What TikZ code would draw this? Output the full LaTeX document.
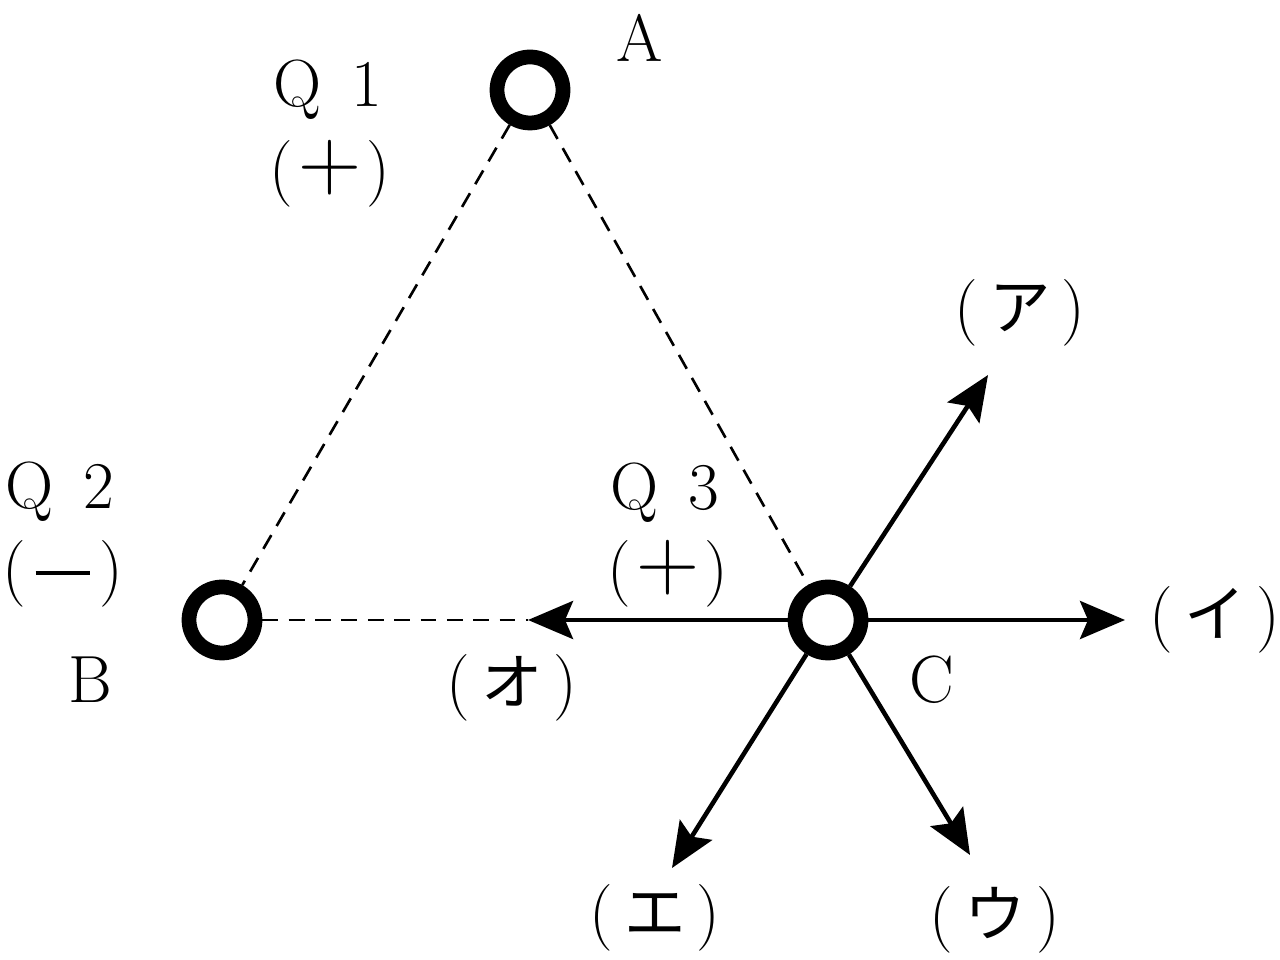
\documentclass[tikz,border=0pt]{standalone}
\usepackage{fontspec}
\newfontfamily\cjk{Noto Sans CJK JP}[Scale=0.92]
\usetikzlibrary{arrows.meta}
\newcommand{\bigsign}[1]{\hspace{0.08em}\smash{\raisebox{0.02em}{\fontsize{25}{25}\selectfont$#1$}}\hspace{0.08em}}
\newcommand{\barsign}{\hspace{0.14em}\rule[0.24em]{0.82em}{0.055em}\hspace{0.14em}}
\begin{document}
\begin{tikzpicture}[
  lbl/.style={font=\fontsize{19}{22}\selectfont, inner sep=0pt},
  charge/.style={circle, draw, line width=4.2pt, minimum size=0.66cm, inner sep=0pt, fill=white},
  vec/.style={line width=1.3pt, -{Stealth[length=0.45cm, width=0.38cm, inset=0.08cm]}},
  dashline/.style={line width=0.75pt, dash pattern=on 4.5pt off 3pt}
]
\useasboundingbox (0,0) rectangle (12.8,9.59);
\coordinate (ta) at (9.88,5.84);
\coordinate (ti) at (11.25,3.39);
\coordinate (tu) at (9.70,1.04);
\coordinate (te) at (6.72,0.91);
\coordinate (to) at (5.28,3.39);
\node[charge] (A) at (5.30,8.69) {};
\node[charge] (B) at (2.22,3.39) {};
\node[charge] (C) at (8.28,3.39) {};
\draw[dashline] (A) -- (B);
\draw[dashline] (A) -- (C);
\draw[dashline] (B) -- (to);
\draw[vec] (C) -- (ta);
\draw[vec] (C) -- (ti);
\draw[vec] (C) -- (tu);
\draw[vec] (C) -- (te);
\draw[vec] (C) -- (to);
\node[lbl] (lA) at (6.40,9.21) {A};
\node[lbl] (q1) at (3.28,8.69) {Q\hspace{0.45em}1};
\node[lbl] (s1) at (3.30,7.85) {(\bigsign{+})};
\node[lbl] (q2) at (0.60,4.67) {Q\hspace{0.45em}2};
\node[lbl] (s2) at (0.63,3.85) {(\barsign)};
\node[lbl] (lB) at (0.90,2.79) {B};
\node[lbl] (q3) at (6.65,4.66) {Q\hspace{0.45em}3};
\node[lbl] (s3) at (6.68,3.85) {(\bigsign{+})};
\node[lbl] (lC) at (9.32,2.79) {C};
\node[lbl] (la) at (10.20,6.46) {(\,{\cjk ア}\,)};
\node[lbl] (li) at (12.15,3.39) {(\,{\cjk イ}\,)};
\node[lbl] (lu) at (9.95,0.39) {(\,{\cjk ウ}\,)};
\node[lbl] (le) at (6.55,0.41) {(\,{\cjk エ}\,)};
\node[lbl] (lo) at (5.12,2.71) {(\,{\cjk オ}\,)};
\end{tikzpicture}
\end{document}
